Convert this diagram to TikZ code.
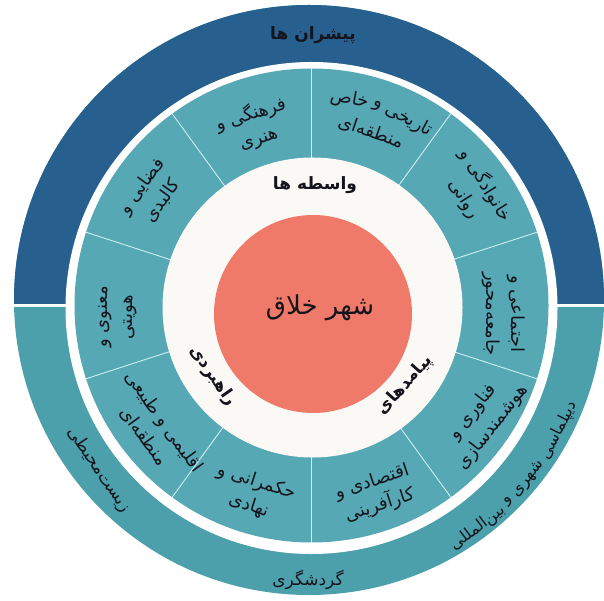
\documentclass[tikz,border=0pt]{standalone}
\usepackage{fontspec}
\newfontfamily\arabicfont[Script=Arabic]{DejaVu Sans}
\TeXXeTstate=1
\newcommand\fa[1]{\beginR #1\endR}
\newcommand\outfont{\arabicfont\fontsize{16}{20}\selectfont}
\newcommand\midfont{\arabicfont\fontsize{18}{25}\selectfont}
\newlength\wA \newlength\wB \newlength\wC \newlength\wD \newlength\wS
\newlength\vA \newlength\vB \newlength\vC
\definecolor{darkblue}{RGB}{39,96,143}
\definecolor{outerteal}{RGB}{75,160,172}
\definecolor{midteal}{RGB}{86,168,180}
\definecolor{sepline}{RGB}{205,238,242}
\definecolor{offwhite}{RGB}{250,249,246}
\definecolor{redc}{RGB}{239,122,106}
\definecolor{txt}{RGB}{20,20,28}
\begin{document}
% word widths for the texts set along arcs
\settowidth\vA{\midfont\fa{تاریخی}}%
\settowidth\vB{\midfont\fa{و}}%
\settowidth\vC{\midfont\fa{خاص}}%
\settowidth\wA{\outfont\fa{دیپلماسی}}%
\settowidth\wB{\outfont\fa{شهری}}%
\settowidth\wC{\outfont\fa{و}}%
\settowidth\wD{\outfont\fa{بین‌المللی}}%
\setlength\wS{5pt}%
\pgfmathsetmacro\mk{180/(pi*210)}%
\pgfmathsetmacro\mtot{(\vA+\vB+\vC+2*\wS)*\mk}%
\pgfmathsetmacro\mst{70-\mtot/2}%
\pgfmathsetmacro\mA{\mst+0.5*\vA*\mk}%
\pgfmathsetmacro\mB{\mst+(\vA+\wS+0.5*\vB)*\mk}%
\pgfmathsetmacro\mC{\mst+(\vA+\vB+2*\wS+0.5*\vC)*\mk}%
\pgfmathsetmacro\dk{180/(pi*279)}%
\pgfmathsetmacro\dtot{(\wA+\wB+\wC+\wD+3*\wS)*\dk}%
\pgfmathsetmacro\dst{-40+\dtot/2}%
\pgfmathsetmacro\dA{\dst-0.5*\wA*\dk}%
\pgfmathsetmacro\dB{\dst-(\wA+\wS+0.5*\wB)*\dk}%
\pgfmathsetmacro\dC{\dst-(\wA+\wB+2*\wS+0.5*\wC)*\dk}%
\pgfmathsetmacro\dD{\dst-(\wA+\wB+\wC+3*\wS+0.5*\wD)*\dk}%
\begin{tikzpicture}[x=1pt,y=1pt,
  lab/.style={font=\midfont, align=center, inner sep=0pt, text=txt},
  inlab/.style={font=\arabicfont\bfseries\fontsize{17}{20}\selectfont, inner sep=0pt, text=txt},
  outlab/.style={font=\outfont, inner sep=0pt, text=txt},
  sep/.style={draw=sepline, line width=0.9pt}]
\useasboundingbox (0,0) rectangle (604,600);
\begin{scope}
  \clip (0,0) rectangle (604,600);
  \fill[outerteal] (309,300) circle (295);
  \begin{scope}
    \clip (0,294) rectangle (604,600);
    \fill[darkblue] (309,300) circle (295);
  \end{scope}
  \draw[white, line width=3pt] (0,294) -- (604,294);
\end{scope}
% gap
\fill[white] (311.5,292) circle (246);
% middle ring
\coordinate (mc) at (311.5,294.5);
\fill[midteal] (mc) circle (237);
\foreach \a in {90,54,18,-18,-54,-90,-126,-162,162,126}
  \draw[sep] (mc) -- ++(\a:237);
% inner white ring
\fill[offwhite] (312.5,292.5) circle (150);
% red core
\fill[redc] (313,286) circle (99);
% core label
\node[font=\arabicfont\fontsize{26}{30}\selectfont, text=txt, inner sep=0pt] (core) at (320,292) {\fa{شهر خلاق}};
% inner ring labels
\node[inlab] (vaseteh) at (315,415) {\fa{واسطه ها}};
\node[inlab, rotate=48] (payamad) at (405,215) {\fa{پیامدهای}};
\node[inlab, rotate=-55] (rahbordi) at (213,224) {\fa{راهبردی}};
% middle ring labels
\node[lab, rotate=18] (m1) at (254.5,474) {\fa{فرهنگی و}\\\fa{هنری}};
\coordinate (ac) at (311,294);
\node[lab, rotate=\mA-90] (m2a) at ([shift={(\mA:210)}]ac) {\fa{تاریخی}};
\node[lab, rotate=\mB-90] (m2b) at ([shift={(\mB:210)}]ac) {\fa{و}};
\node[lab, rotate=\mC-90] (m2c) at ([shift={(\mC:210)}]ac) {\fa{خاص}};
\node[lab, rotate=-19] (m2d) at ([shift={(71:184)}]ac) {\fa{منطقه‌ای}};
\node[lab, rotate=-58] (m3) at (475.5,408) {\fa{خانوادگی و}\\\fa{روانی}};
\node[lab, rotate=-90] (m4) at (504,286) {\fa{اجتماعی و}\\\fa{جامعه‌محور}};
\node[lab, rotate=52] (m5) at (483,180) {\fa{فناوری و}\\\fa{هوشمندسازی}};
\node[lab, rotate=18] (m6) at (376,106) {\fa{اقتصادی و}\\\fa{کارآفرینی}};
\node[lab, rotate=-18] (m7) at (252.5,106) {\fa{حکمرانی و}\\\fa{نهادی}};
\node[lab, rotate=-54] (m8) at (154,171) {\fa{اقلیمی و طبیعی}\\\fa{منطقه‌ای}};
\node[lab, rotate=90] (m9) at (118,283) {\fa{معنوی و}\\\fa{هویتی}};
\node[lab, rotate=54] (m10) at (152,406.5) {\fa{فضایی و}\\\fa{کالبدی}};
% outer ring labels
\node[outlab, font=\arabicfont\bfseries\fontsize{17}{20}\selectfont] (pishran) at (313,565) {\fa{پیشران ها}};
\node[outlab, font=\arabicfont\fontsize{17}{20}\selectfont] (gardesh) at (308,20) {\fa{گردشگری}};
\node[outlab, font=\arabicfont\fontsize{17}{20}\selectfont, rotate=-56] (zist) at (99,130) {\fa{زیست‌محیطی}};
\coordinate (oc) at (310,295);
\node[outlab, rotate=\dA+90] (dip1) at ([shift={(\dA:279)}]oc) {\fa{دیپلماسی}};
\node[outlab, rotate=\dB+90] (dip2) at ([shift={(\dB:279)}]oc) {\fa{شهری}};
\node[outlab, rotate=\dC+90] (dip3) at ([shift={(\dC:279)}]oc) {\fa{و}};
\node[outlab, rotate=\dD+90] (dip4) at ([shift={(\dD:279)}]oc) {\fa{بین‌المللی}};
\end{tikzpicture}
\end{document}
